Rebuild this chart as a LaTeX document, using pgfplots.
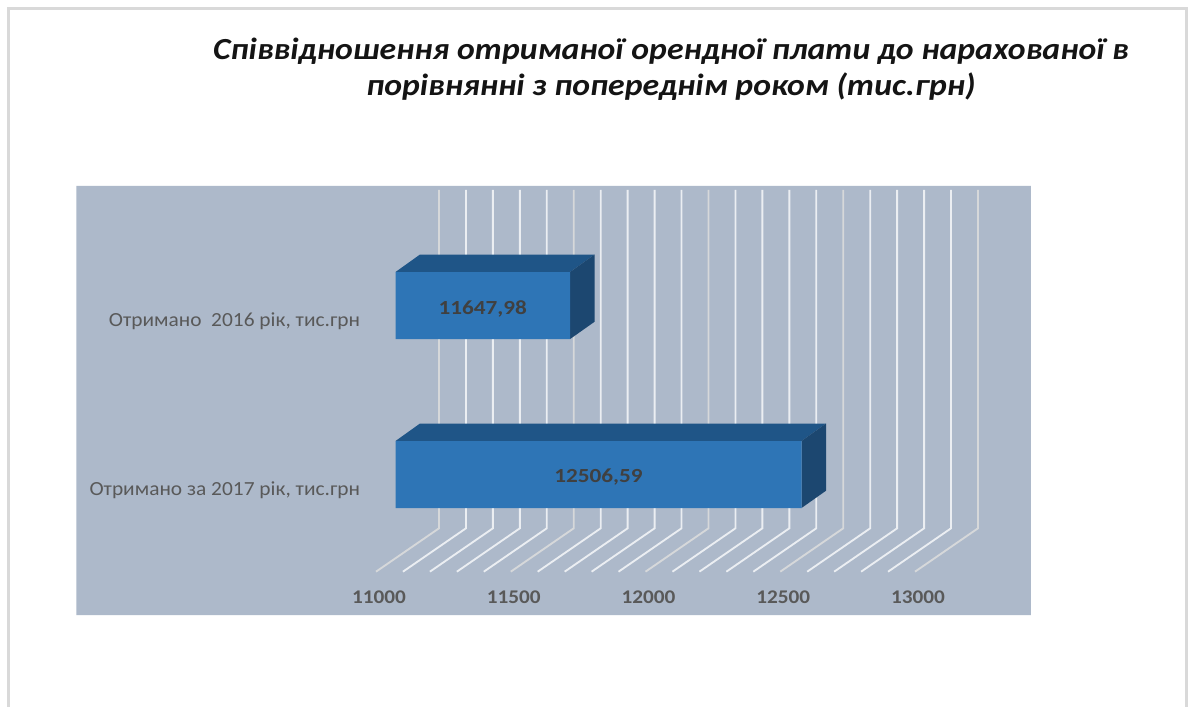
\documentclass[border=0pt]{standalone}
\usepackage{pgfplots}
\pgfplotsset{compat=1.18}
\usepackage{fontspec}
\setmainfont{Carlito}
\definecolor{panel}{HTML}{ADB9CA}
\definecolor{front}{HTML}{2E75B6}
\definecolor{topf}{HTML}{1F5587}
\definecolor{sidef}{HTML}{1C4770}
\definecolor{majl}{HTML}{D6D8DA}
\definecolor{minl}{HTML}{EBEEF2}
\definecolor{bord}{HTML}{D9D9D9}
\begin{document}
\begin{tikzpicture}[x=0.75pt,y=0.75pt]
\path[use as bounding box] (0,0) rectangle (1193,707);
\fill[white] (0,0) rectangle (1193,707);
\draw[bord,line width=1.6pt] (8.5,0) -- (8.5,698.5) -- (1186.5,698.5) -- (1186.5,0);
\begin{axis}[
  at={(296.625pt,69pt)}, anchor=south west,
  scale only axis, width=404.25pt, height=321.75pt,
  xmin=11000, xmax=13000, ymin=186, ymax=615, y dir=reverse,
  clip=false, axis on top, axis line style={draw=none}, tick style={draw=none},
  major tick length=0pt, scaled ticks=false,
  xtick={11000,11500,12000,12500,13000},
  xticklabels={\scalebox{1.1}[1]{11000},\scalebox{1.1}[1]{11500},\scalebox{1.1}[1]{12000},\scalebox{1.1}[1]{12500},\scalebox{1.1}[1]{13000}},
  xticklabel style={font=\bfseries\fontsize{14.5}{15}\selectfont, text=black!65, anchor=center, xshift=-12.4pt, yshift=13.5pt},
  ytick={305.5,474.5},
  yticklabels={{\scalebox{1.07}[1]{Отримано\ \ 2016 рік, тис.грн}},{\scalebox{1.07}[1]{Отримано за 2017 рік, тис.грн}}},
  yticklabel style={font=\fontsize{15}{15}\selectfont, text=black!65, anchor=east, xshift=-23pt, yshift=-12pt},
  /pgf/number format/.cd,fixed,fixed zerofill,precision=2,use comma,1000 sep={},assume math mode=true,
]
\addplot[fill=panel,draw=none,forget plot] coordinates {(9816.3,186) (13358,186) (13358,615) (9816.3,615) (9816.3,186)};
\addplot[majl,line width=1.4pt,unbounded coords=jump,forget plot] coordinates {
(10927.6,571.7) (11161.4,528.3) (11161.4,190) (11000,nan)
(11427.6,571.7) (11661.4,528.3) (11661.4,190) (11000,nan)
(11927.6,571.7) (12161.4,528.3) (12161.4,190) (11000,nan)
(12427.6,571.7) (12661.4,528.3) (12661.4,190) (11000,nan)
(12927.6,571.7) (13161.4,528.3) (13161.4,190)
};
\addplot[minl,line width=1.4pt,unbounded coords=jump,forget plot] coordinates {
(11027.6,571.7) (11261.4,528.3) (11261.4,190) (11000,nan)
(11127.6,571.7) (11361.4,528.3) (11361.4,190) (11000,nan)
(11227.6,571.7) (11461.4,528.3) (11461.4,190) (11000,nan)
(11327.6,571.7) (11561.4,528.3) (11561.4,190) (11000,nan)
(11527.6,571.7) (11761.4,528.3) (11761.4,190) (11000,nan)
(11627.6,571.7) (11861.4,528.3) (11861.4,190) (11000,nan)
(11727.6,571.7) (11961.4,528.3) (11961.4,190) (11000,nan)
(11827.6,571.7) (12061.4,528.3) (12061.4,190) (11000,nan)
(12027.6,571.7) (12261.4,528.3) (12261.4,190) (11000,nan)
(12127.6,571.7) (12361.4,528.3) (12361.4,190) (11000,nan)
(12227.6,571.7) (12461.4,528.3) (12461.4,190) (11000,nan)
(12327.6,571.7) (12561.4,528.3) (12561.4,190) (11000,nan)
(12527.6,571.7) (12761.4,528.3) (12761.4,190) (11000,nan)
(12627.6,571.7) (12861.4,528.3) (12861.4,190) (11000,nan)
(12727.6,571.7) (12961.4,528.3) (12961.4,190) (11000,nan)
(12827.6,571.7) (13061.4,528.3) (13061.4,190)
};
% top faces
\addplot[fill=topf,draw=none,forget plot] coordinates {(11000,272) (11647.98,272) (11738.88,254.5) (11090.9,254.5) (11000,272)};
\addplot[fill=topf,draw=none,forget plot] coordinates {(11000,441) (12506.59,441) (12597.49,423.5) (11090.9,423.5) (11000,441)};
% side faces
\addplot[fill=sidef,draw=none,forget plot] coordinates {(11647.98,272) (11738.88,254.5) (11738.88,321.7) (11647.98,339) (11647.98,272)};
\addplot[fill=sidef,draw=none,forget plot] coordinates {(12506.59,441) (12597.49,423.5) (12597.49,490.7) (12506.59,508) (12506.59,441)};
% front faces
\addplot[xbar,bar width=50.25pt,bar shift=0pt,fill=front,draw=none,forget plot] coordinates {(11647.98,305.5) (12506.59,474.5)};
% value labels
\addplot[draw=none,mark=none,forget plot,point meta=explicit,
  nodes near coords={\scalebox{1.16}[1]{\pgfmathprintnumber\pgfplotspointmeta}},
  every node near coord/.style={anchor=center,font=\bfseries\fontsize{15}{15}\selectfont,text=black!75}]
  coordinates {(11323.99,309) [11647.98] (11753.3,477) [12506.59]};
\end{axis}
\node[anchor=center,align=center,font=\bfseries\itshape\fontsize{23}{26}\selectfont,text=black!92] at (671,707-51) {\scalebox{1.1}[1]{Співвідношення отриманої орендної плати до нарахованої в}};
\node[anchor=center,align=center,font=\bfseries\itshape\fontsize{23}{26}\selectfont,text=black!92] at (671,707-87) {\scalebox{1.1}[1]{порівнянні з попереднім роком (тис.грн)}};
\end{tikzpicture}
\end{document}
